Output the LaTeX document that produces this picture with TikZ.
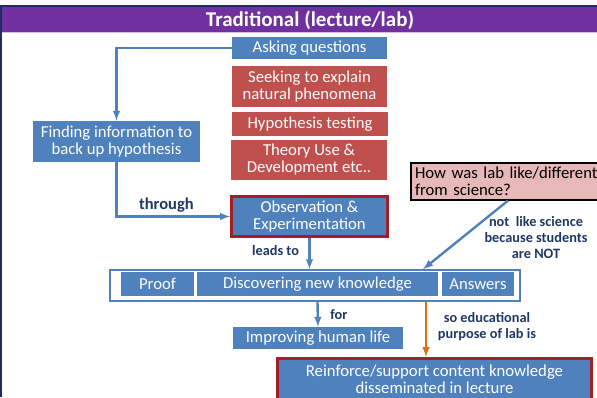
\documentclass[tikz,border=0pt]{standalone}
\usepackage{fontspec}
\setmainfont{Carlito}
\usetikzlibrary{arrows}

\definecolor{kastenblau}{RGB}{79,129,189}
\definecolor{kastenrot}{RGB}{192,80,77}
\definecolor{rosa}{RGB}{230,185,184}
\definecolor{dunkelrot}{RGB}{165,30,38}
\definecolor{lila}{RGB}{112,48,160}
\definecolor{marine}{RGB}{31,45,100}
\definecolor{textblau}{RGB}{31,56,100}
\definecolor{pfeilorange}{RGB}{228,108,10}

\newcommand\boxfont{\fontsize{16.7}{17}\selectfont}
\newcommand\labelfont{\fontsize{14.3}{16}\selectfont\bfseries}

\begin{document}
\begin{tikzpicture}[x=1pt,y=-1pt,
  kasten/.style={inner sep=0pt, align=center, text=white, font=\boxfont},
  blau/.style={kasten, fill=kastenblau},
  rot/.style={kasten, fill=kastenrot},
  betont/.style={blau, draw=dunkelrot, line width=3pt},
  beschriftung/.style={align=center, text=textblau, font=\labelfont},
  pfeil/.style={-latex, draw=kastenblau, line width=2.4pt}]

% Rahmen
\clip (0,0) rectangle (597,397);
\fill[white] (0,0) rectangle (597,397);
\fill[marine] (0,5) rectangle (597,7);
\fill[marine] (0,5) rectangle (2,397);
\fill[lila] (2,7) rectangle (597,32);
\draw[lila!30] (2,32.5) -- (597,32.5);
\draw (310,20) node[text=white, font=\fontsize{21}{22}\selectfont\bfseries] (Titel) {Traditional (lecture/lab)};

% Kaesten
\draw (309.5,48) node[blau, minimum width=155, minimum height=22] (Fragen) {Asking questions};
\draw (309.5,86.5) node[rot, minimum width=155, minimum height=41] (Erklaeren) {Seeking to explain\\natural phenomena};
\draw (310,124) node[rot, minimum width=156, minimum height=24] (Hypothese) {Hypothesis testing};
\draw (309,160) node[rot, minimum width=156, minimum height=40] (Theorie) {Theory Use \&\\Development etc..};
\draw (116.5,141.5) node[blau, minimum width=167, minimum height=41] (Finden) {Finding information to\\back up hypothesis};
\draw (309.5,216.5) node[betont, minimum width=156, minimum height=40] (Beobachtung) {Observation \&\\Experimentation};
\draw (508,181.5) node[fill=rosa, draw=black, line width=1.2pt, minimum width=194, minimum height=37,
  inner sep=0pt, text width=186, align=left, font=\boxfont] (Frage) {How was lab like/different\\from science?};

% Wissen
\draw (315,285.5) node[draw=kastenblau, fill=white, line width=1.5pt, minimum width=410, minimum height=31, inner sep=0pt] (Wissen) {};
\draw (157.5,284) node[blau, minimum width=73, minimum height=24] (Beweis) {Proof};
\draw (317.5,284) node[blau, minimum width=241, minimum height=24] (Entdecken) {Discovering new knowledge};
\draw (478,284) node[blau, minimum width=72, minimum height=24] (Antworten) {Answers};
\draw (318,338) node[blau, minimum width=170, minimum height=22] (Leben) {Improving human life};
\draw (434.5,379) node[betont, minimum width=314, minimum height=41] (Festigen) {Reinforce/support content knowledge\\disseminated in lecture};

% Beschriftungen
\draw (536,238) node[beschriftung] (Notiz) {not\ \ like science\\because students\\are NOT};
\draw (487,327) node[beschriftung] (Zweck) {so educational\\purpose of lab is};

% Striche
\draw[pfeil] (Fragen.west) -| (Finden.north);
\draw[pfeil] (Finden.south) |- (Beobachtung.west) node[pos=0.72, above, beschriftung, font=\fontsize{16.5}{16}\selectfont\bfseries] {through};
\draw[pfeil] (Beobachtung.south) -- (Beobachtung.south |- Wissen.north) node[pos=0.4, left, beschriftung, xshift=-6pt] {leads to};
\draw[pfeil] (Frage.south) -- ([xshift=108pt]Wissen.north);
\draw[pfeil] (Entdecken.south |- Wissen.south) -- (Leben.north) node[midway, right, beschriftung, xshift=8pt] {for};
\coordinate (Orange) at ([xshift=111pt]Wissen.south);
\draw[-latex, draw=pfeilorange, line width=2.4pt] (Orange) -- (Orange |- Festigen.north);

\end{tikzpicture}
\end{document}
